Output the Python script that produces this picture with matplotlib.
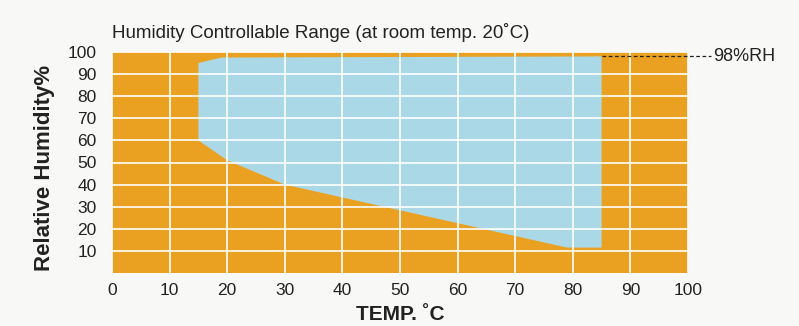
import matplotlib
matplotlib.use("Agg")
import matplotlib.pyplot as plt

# Data: boundary of controllable range (temperature °C, relative humidity %)
range_temp = [15, 15, 19, 85, 85, 79, 30, 20, 15]
range_rh = [60, 95, 97.5, 98, 11.5, 11.5, 40, 51, 60]
x_ticks = [0, 10, 20, 30, 40, 50, 60, 70, 80, 90, 100]
y_ticks = [10, 20, 30, 40, 50, 60, 70, 80, 90, 100]
rh_limit = 98

orange = "#eaa020"
blue = "#abd8e6"
bg = "#f8f8f6"
fam = ["Liberation Sans Narrow", "Liberation Sans", "DejaVu Sans"]

fig = plt.figure(figsize=(7.99, 3.26), dpi=100, facecolor=bg)
ax = fig.add_axes([112/799, 1-273/326, 576/799, 221/326])
ax.set_xlim(0, 100)
ax.set_ylim(0, 100)
ax.set_facecolor(orange)
ax.fill(range_temp, range_rh, color=blue, zorder=1, lw=0)
ax.set_xticks(x_ticks)
ax.set_yticks(y_ticks)
ax.grid(True, color="white", lw=1.2, zorder=2)
ax.set_axisbelow(False)
for s in ax.spines.values():
    s.set_visible(False)
ax.tick_params(length=0, labelsize=12.5, colors="#222222")
ax.tick_params(axis="x", pad=7)
ax.tick_params(axis="y", pad=11)
for lab in ax.get_xticklabels() + ax.get_yticklabels():
    lab.set_family(fam)

# 98%RH dashed marker
ax.plot([85, 104], [rh_limit, rh_limit], ls=(0, (3, 2)), color="#222222",
        lw=0.9, clip_on=False, zorder=3)
ax.text(104.3, rh_limit, "98%RH", family=fam, fontsize=13, va="center",
        ha="left", color="#222222")

fig.text(112/799, 1-33/326, "Humidity Controllable Range (at room temp. 20˚C)",
         family=fam, fontsize=13.5, ha="left", va="center", color="#222222")
fig.text(45/799, 1-168/326, "Relative Humidity%", rotation=90, fontsize=16,
         fontweight="bold", ha="center", va="center", color="#222222",
         family=["Liberation Sans", "DejaVu Sans"])
fig.text(400/799, 1-324/326, "TEMP. ˚C", fontsize=15, fontweight="bold",
         ha="center", va="bottom", color="#222222",
         family=["Liberation Sans", "DejaVu Sans"])

fig.savefig("out.png", dpi=100, facecolor=bg)
